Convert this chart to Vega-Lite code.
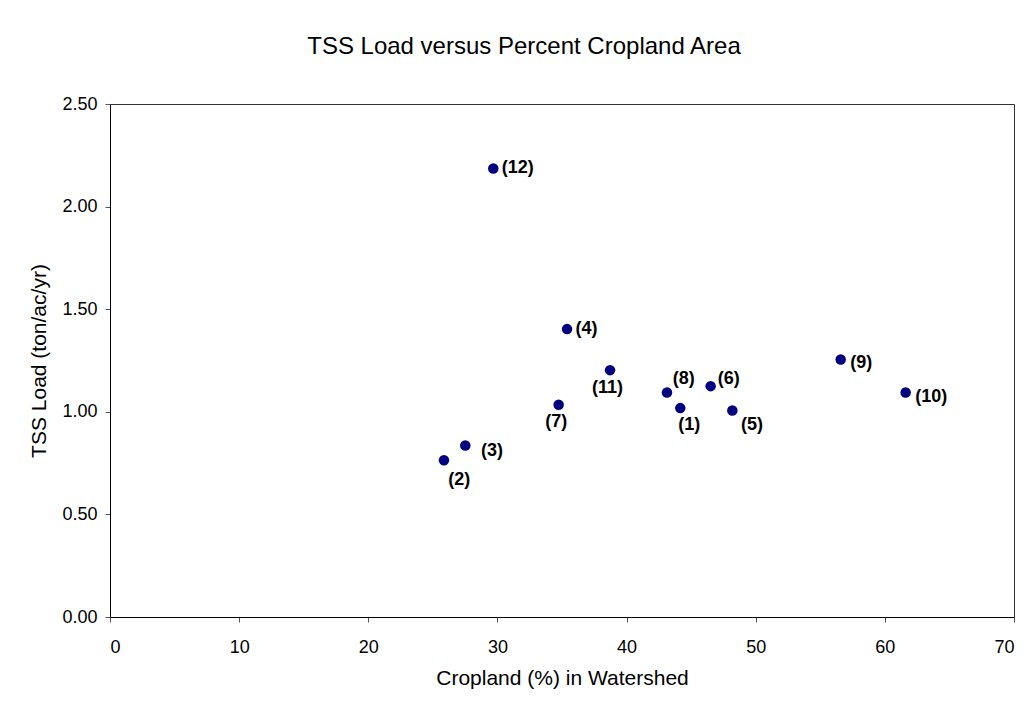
{
  "$schema": "https://vega.github.io/schema/vega-lite/v6.json",
  "autosize": {"type": "none"},
  "padding": {"left": 110, "top": 104, "right": 17, "bottom": 89},
  "width": 904,
  "height": 513,
  "background": "white",
  "title": {
    "text": "TSS Load versus Percent Cropland Area",
    "font": "Liberation Sans",
    "fontSize": 24,
    "fontWeight": "normal",
    "color": "black",
    "anchor": "middle",
    "dx": -38,
    "offset": 36
  },
  "config": {
    "view": {"stroke": "#333", "strokeWidth": 1},
    "axis": {
      "labelFont": "Liberation Sans",
      "labelFontSize": 18,
      "labelColor": "black",
      "titleFont": "Liberation Sans",
      "titleFontSize": 21,
      "titleFontWeight": "normal",
      "titleColor": "black",
      "domainColor": "black",
      "tickColor": "#555",
      "tickSize": 5,
      "grid": false
    }
  },
  "data": {
    "values": [
      {"site": "(1)", "crop": 44.16, "tss": 1.018},
      {"site": "(2)", "crop": 25.86, "tss": 0.764},
      {"site": "(3)", "crop": 27.51, "tss": 0.836},
      {"site": "(4)", "crop": 35.39, "tss": 1.403},
      {"site": "(5)", "crop": 48.19, "tss": 1.006},
      {"site": "(6)", "crop": 46.51, "tss": 1.125},
      {"site": "(7)", "crop": 34.74, "tss": 1.034},
      {"site": "(8)", "crop": 43.13, "tss": 1.094},
      {"site": "(9)", "crop": 56.58, "tss": 1.255},
      {"site": "(10)", "crop": 61.61, "tss": 1.094},
      {"site": "(11)", "crop": 38.72, "tss": 1.203},
      {"site": "(12)", "crop": 29.68, "tss": 2.186}
    ]
  },
  "encoding": {
    "x": {
      "field": "crop",
      "type": "quantitative",
      "scale": {"domain": [0, 70], "nice": false, "zero": true},
      "axis": {"title": "Cropland (%) in Watershed", "values": [0, 10, 20, 30, 40, 50, 60, 70], "labelPadding": 16, "titlePadding": 11}
    },
    "y": {
      "field": "tss",
      "type": "quantitative",
      "scale": {"domain": [0, 2.5], "nice": false},
      "axis": {"title": "TSS Load (ton/ac/yr)", "values": [0, 0.5, 1, 1.5, 2, 2.5], "format": ".2f", "labelPadding": 8, "titlePadding": 12}
    }
  },
  "layer": [
    {"mark": {"type": "point", "filled": true, "size": 110, "color": "#000080", "opacity": 1}},
    {"transform": [{"filter": "datum.site == '(12)' || datum.site == '(4)'"}],
     "mark": {"type": "text", "align": "left", "baseline": "middle", "dx": 8.5, "dy": 0, "font": "Liberation Sans", "fontSize": 18, "fontWeight": "bold", "color": "black"},
     "encoding": {"text": {"field": "site"}}},
    {"transform": [{"filter": "datum.site == '(9)' || datum.site == '(10)'"}],
     "mark": {"type": "text", "align": "left", "baseline": "middle", "dx": 9.5, "dy": 4, "font": "Liberation Sans", "fontSize": 18, "fontWeight": "bold", "color": "black"},
     "encoding": {"text": {"field": "site"}}},
    {"transform": [{"filter": "datum.site == '(3)'"}],
     "mark": {"type": "text", "align": "left", "baseline": "middle", "dx": 15.7, "dy": 5.7, "font": "Liberation Sans", "fontSize": 18, "fontWeight": "bold", "color": "black"},
     "encoding": {"text": {"field": "site"}}},
    {"transform": [{"filter": "datum.site == '(8)'"}],
     "mark": {"type": "text", "align": "left", "baseline": "middle", "dx": 5.7, "dy": -13.7, "font": "Liberation Sans", "fontSize": 18, "fontWeight": "bold", "color": "black"},
     "encoding": {"text": {"field": "site"}}},
    {"transform": [{"filter": "datum.site == '(6)'"}],
     "mark": {"type": "text", "align": "left", "baseline": "middle", "dx": 7, "dy": -7.4, "font": "Liberation Sans", "fontSize": 18, "fontWeight": "bold", "color": "black"},
     "encoding": {"text": {"field": "site"}}},
    {"transform": [{"filter": "datum.site == '(11)' || datum.site == '(7)'"}],
     "mark": {"type": "text", "align": "center", "baseline": "middle", "dx": -2.5, "dy": 17.5, "font": "Liberation Sans", "fontSize": 18, "fontWeight": "bold", "color": "black"},
     "encoding": {"text": {"field": "site"}}},
    {"transform": [{"filter": "datum.site == '(1)'"}],
     "mark": {"type": "text", "align": "center", "baseline": "middle", "dx": 9, "dy": 17, "font": "Liberation Sans", "fontSize": 18, "fontWeight": "bold", "color": "black"},
     "encoding": {"text": {"field": "site"}}},
    {"transform": [{"filter": "datum.site == '(5)'"}],
     "mark": {"type": "text", "align": "center", "baseline": "middle", "dx": 19.7, "dy": 14.7, "font": "Liberation Sans", "fontSize": 18, "fontWeight": "bold", "color": "black"},
     "encoding": {"text": {"field": "site"}}},
    {"transform": [{"filter": "datum.site == '(2)'"}],
     "mark": {"type": "text", "align": "center", "baseline": "middle", "dx": 15.3, "dy": 19.3, "font": "Liberation Sans", "fontSize": 18, "fontWeight": "bold", "color": "black"},
     "encoding": {"text": {"field": "site"}}}
  ]
}
